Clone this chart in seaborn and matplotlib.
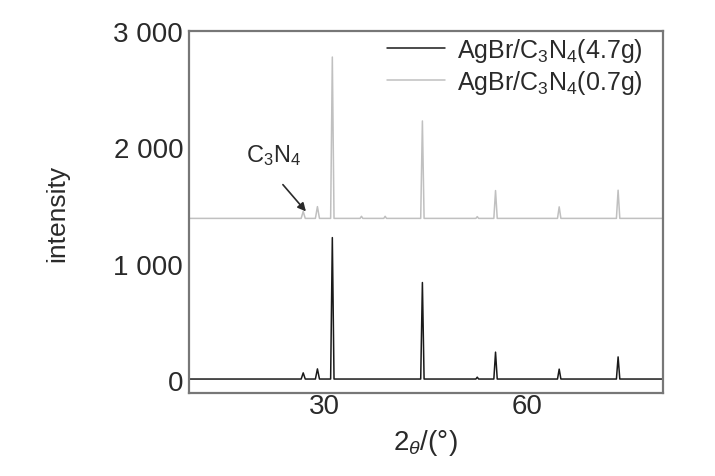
import pandas as pd
import matplotlib
matplotlib.use('Agg')
import matplotlib.pyplot as plt
import seaborn as sns

two_theta_black = [10.0, 26.6, 26.9, 27.2, 28.7, 29.0, 29.3, 30.95, 31.2, 31.45,
                   44.25, 44.5, 44.75, 52.4, 52.6, 52.8, 55.05, 55.3, 55.55,
                   64.45, 64.7, 64.95, 73.15, 73.4, 73.65, 80.0]
intens_black = [10, 10, 63, 10, 10, 97, 10, 10, 1225, 10,
                10, 839, 10, 10, 26, 10, 10, 241, 10,
                10, 95, 10, 10, 200, 10, 10]

two_theta_gray = [10.0, 26.6, 26.9, 27.2, 28.7, 29.0, 29.3, 30.95, 31.2, 31.45,
                  35.3, 35.5, 35.7, 38.8, 39.0, 39.2, 44.25, 44.5, 44.75,
                  52.4, 52.6, 52.8, 55.05, 55.3, 55.55, 64.45, 64.7, 64.95,
                  73.15, 73.4, 73.65, 80.0]
intens_gray = [1390, 1390, 1450, 1390, 1390, 1491, 1390, 1390, 2776, 1390,
               1390, 1408, 1390, 1390, 1408, 1390, 1390, 2227, 1390,
               1390, 1405, 1390, 1390, 1629, 1390, 1390, 1489, 1390,
               1390, 1632, 1390, 1390]

rotulo_black = 'AgBr/C$_3$N$_4$(4.7g)'
rotulo_gray = 'AgBr/C$_3$N$_4$(0.7g)'

y_ticks = [0, 1000, 2000, 3000]
y_tick_labels = ['0', '1 000', '2 000', '3 000']
x_ticks = [30, 60]

# montando a tabela longa para o seaborn
df = pd.concat([
    pd.DataFrame({'x': two_theta_black, 'y': intens_black, 'amostra': rotulo_black}),
    pd.DataFrame({'x': two_theta_gray, 'y': intens_gray, 'amostra': rotulo_gray}),
])

sns.set_style('white')
plt.rcParams['font.family'] = ['Liberation Sans', 'DejaVu Sans']
plt.rcParams['mathtext.fontset'] = 'custom'
plt.rcParams['mathtext.rm'] = 'Liberation Sans'
plt.rcParams['mathtext.it'] = 'Liberation Sans:italic'

fig = plt.figure(figsize=(7.15, 4.77), dpi=100)
ax = fig.add_axes([0.264, 0.174, 0.663, 0.759])

sns.lineplot(data=df, x='x', y='y', hue='amostra', estimator=None, sort=False,
             palette={rotulo_black: '#1a1a1a', rotulo_gray: '#c0c0c0'},
             linewidth=1.1, ax=ax)

ax.set_xlim(10, 80)
ax.set_ylim(-110, 3000)
ax.set_xticks(x_ticks)
ax.set_yticks(y_ticks)
ax.set_yticklabels(y_tick_labels)
ax.tick_params(direction='in', length=6, color='#777777', labelsize=20,
               labelcolor='#2a2a2a')
ax.tick_params(axis='x', pad=0)
ax.tick_params(axis='y', pad=4)
for s in ax.spines.values():
    s.set_color('#777777')
    s.set_linewidth(1.6)

ax.set_ylabel('intensity', fontsize=19, color='#2a2a2a', labelpad=32)
ax.set_xlabel(r'2$_{\it{\theta}}$/(°)', fontsize=20, color='#2a2a2a', labelpad=6)

# seta indicando o pico do C3N4
ax.text(18.5, 1880, 'C$_3$N$_4$', fontsize=17, color='#2a2a2a')
ax.annotate('', xy=(27.3, 1450), xytext=(23.9, 1680),
            arrowprops=dict(arrowstyle='-|>', color='#2a2a2a', lw=1.2,
                            shrinkA=0, shrinkB=0, mutation_scale=12))

leg = ax.legend(loc='upper right', frameon=False, fontsize=18,
                handlelength=2.3, handletextpad=0.5, borderaxespad=0.1,
                labelspacing=0.15, bbox_to_anchor=(0.985, 1.02))
for t in leg.get_texts():
    t.set_color('#2a2a2a')

fig.savefig('out.png', dpi=100)
